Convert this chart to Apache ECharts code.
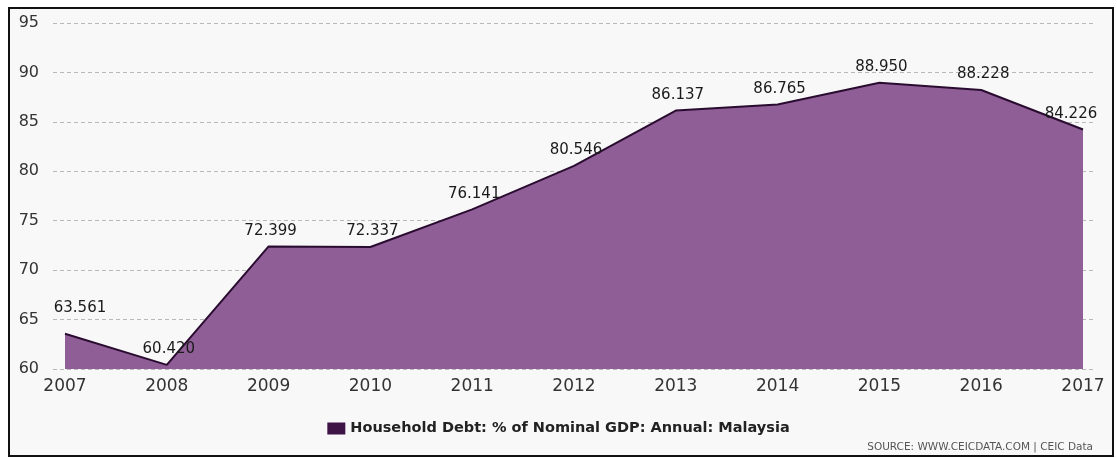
<!DOCTYPE html>
<html>
<head>
<meta charset="utf-8">
<script src="https://cdn.jsdelivr.net/npm/echarts@6/dist/echarts.min.js"></script>
<style>html,body{margin:0;padding:0;background:#fff}#c{width:1117px;height:458px}</style>
</head>
<body>
<div id="c"></div>
<script>
const years = ['2007','2008','2009','2010','2011','2012','2013','2014','2015','2016','2017'];
const debtPctGDP = [63.561, 60.420, 72.399, 72.337, 76.141, 80.546, 86.137, 86.765, 88.950, 88.228, 84.226];
const seriesName = 'Household Debt: % of Nominal GDP: Annual: Malaysia';
const sourceText = 'SOURCE: WWW.CEICDATA.COM | CEIC Data';
const yMin = 60, yMax = 95, yStep = 5;

const chart = echarts.init(document.getElementById('c'), null, {renderer: 'canvas'});
chart.setOption({
  animation: false,
  backgroundColor: '#fff',
  graphic: [{
    type: 'rect', z: -10, silent: true,
    shape: {x: 9, y: 8, width: 1104, height: 448},
    style: {fill: '#f8f8f8', stroke: '#111', lineWidth: 2}
  }, {
    type: 'text', right: 24, top: 442,
    style: {text: sourceText, fill: '#555', font: '10.5px "DejaVu Sans"'}
  }],
  grid: [
    {left: 53, right: 22, top: 23, bottom: 89},
    {left: 65, right: 34, top: 23, bottom: 89}
  ],
  legend: {
    top: 416, left: 'center',
    itemWidth: 18, itemHeight: 12, itemGap: 6,
    icon: 'rect',
    textStyle: {fontFamily: 'DejaVu Sans', fontWeight: 'bold', fontSize: 14.5, color: '#222'},
    data: [{name: seriesName, itemStyle: {color: '#3d1445'}}]
  },
  xAxis: [
    {gridIndex: 0, type: 'value', show: false, min: 0, max: 1},
    {gridIndex: 1, type: 'category', data: years, boundaryGap: false,
     axisLine: {show: false}, axisTick: {show: false},
     axisLabel: {margin: 9, fontFamily: 'DejaVu Sans', fontSize: 17, color: '#333'}}
  ],
  yAxis: [
    {gridIndex: 0, type: 'value', min: yMin, max: yMax, interval: yStep,
     axisLine: {show: false}, axisTick: {show: false},
     axisLabel: {margin: 14, fontFamily: 'DejaVu Sans', fontSize: 16, color: '#333'},
     splitLine: {lineStyle: {color: '#b8b8b8', type: [4, 3], width: 1}}},
    {gridIndex: 1, type: 'value', min: yMin, max: yMax, show: false, splitLine: {show: false}}
  ],
  series: [{
    name: seriesName, type: 'line', xAxisIndex: 1, yAxisIndex: 1,
    data: debtPctGDP, symbol: 'circle', symbolSize: 0.01, showSymbol: true,
    lineStyle: {color: '#2a0c30', width: 2},
    itemStyle: {color: '#3d1445'},
    areaStyle: {color: '#8f5e97', opacity: 1},
    labelLayout: function (p) {
      const last = debtPctGDP.length - 1;
      if (p.dataIndex === 0) return {dx: 15, dy: -10, hideOverlap: false};
      if (p.dataIndex === last) return {dx: -12, hideOverlap: false};
      return {dx: 2, hideOverlap: false};
    },
    label: {show: true, position: 'top', distance: 8,
            formatter: p => p.value.toFixed(3),
            fontFamily: 'DejaVu Sans', fontSize: 15, color: '#1a1a1a'}
  }]
});
</script>
</body>
</html>
